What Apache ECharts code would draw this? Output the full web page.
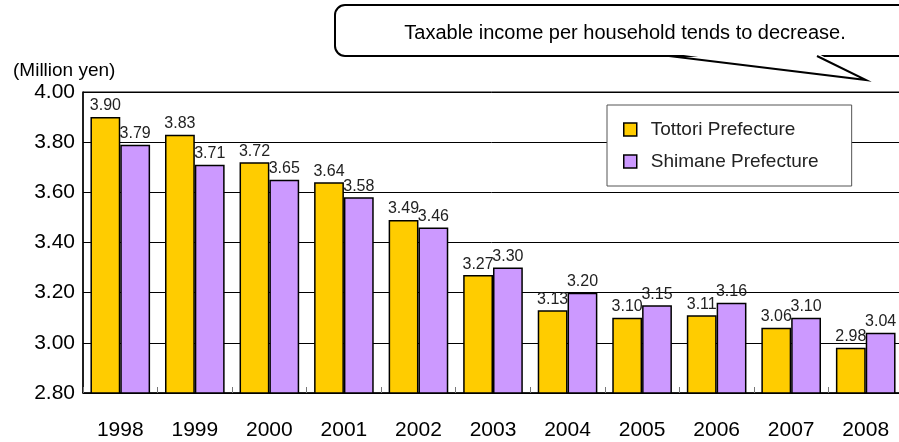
<!DOCTYPE html>
<html>
<head>
<meta charset="utf-8">
<script src="https://cdn.jsdelivr.net/npm/echarts@6/dist/echarts.min.js"></script>
<style>
html, body { margin: 0; padding: 0; background: #fff; }
#main { width: 899px; height: 442px; }
</style>
</head>
<body>
<div id="main"></div>
<script>
var years = ['1998', '1999', '2000', '2001', '2002', '2003', '2004', '2005', '2006', '2007', '2008'];
var tottori = [3.90, 3.83, 3.72, 3.64, 3.49, 3.27, 3.13, 3.10, 3.11, 3.06, 2.98];
var shimane = [3.79, 3.71, 3.65, 3.58, 3.46, 3.30, 3.20, 3.15, 3.16, 3.10, 3.04];
var yTicks = [2.80, 3.00, 3.20, 3.40, 3.60, 3.80, 4.00];
var note = 'Taxable income per household tends to decrease.';

var narrow = '"Liberation Sans Narrow", "Arial Narrow", "Liberation Sans", Arial, sans-serif';
var plain = '"Liberation Sans", Arial, sans-serif';

function make_series(name, data, color){
    return {
        type: 'bar',
        name: name,
        data: data,
        barGap: '0%',
        barCategoryGap: '20%',
        itemStyle: {
            color: color,
            borderColor: '#000',
            borderWidth: 1.5
        },
        label: {
            show: true,
            position: 'top',
            distance: 3,
            color: '#222',
            fontFamily: narrow,
            fontSize: 16,
            formatter: function (p) { return p.value.toFixed(2); }
        }
    };
}

var myChart = echarts.init(document.getElementById('main'));
var option = {
    backgroundColor: '#fff',
    animation: false,
    grid: {
        left: 83,
        right: -4,
        top: 92,
        bottom: 49,
        outerBoundsMode: 'none',
        show: true,
        borderColor: '#000',
        borderWidth: 1
    },
    legend: {
        orient: 'vertical',
        left: 607,
        top: 105,
        padding: [15, 33, 15, 16],
        itemGap: 13,
        itemWidth: 13,
        itemHeight: 13,
        backgroundColor: '#fff',
        borderColor: '#555',
        borderWidth: 1,
        icon: 'rect',
        textStyle: {
            color: '#222',
            fontFamily: narrow,
            fontSize: 19,
            padding: [0, 0, 0, 9]
        },
        itemStyle: { borderColor: '#000', borderWidth: 1.5 },
        data: ['Tottori Prefecture', 'Shimane Prefecture']
    },
    xAxis: {
        type: 'category',
        data: years,
        axisLine: { lineStyle: { color: '#000', width: 1.5 } },
        axisTick: { show: true, inside: true, length: 6, lineStyle: { color: '#777' } },
        axisLabel: {
            color: '#000',
            fontFamily: plain,
            fontSize: 21,
            margin: 27
        }
    },
    yAxis: {
        type: 'value',
        min: yTicks[0],
        max: yTicks[yTicks.length - 1],
        interval: 0.2,
        name: '(Million yen)',
        nameLocation: 'end',
        nameGap: 12,
        nameTextStyle: {
            color: '#000',
            fontFamily: plain,
            fontSize: 19,
            align: 'left',
            padding: [0, 0, 0, -70]
        },
        axisLine: { show: true, lineStyle: { color: '#000', width: 1.5 } },
        axisTick: { show: false },
        axisLabel: {
            color: '#000',
            fontFamily: plain,
            fontSize: 21,
            margin: 8,
            padding: [8, 0, 0, 0],
            formatter: function (v) { return v.toFixed(2); }
        },
        splitLine: { show: true, lineStyle: { color: '#000', width: 1 } }
    },
    graphic: [{
        type: 'rect',
        z: 100,
        shape: { x: 335, y: 5, width: 620, height: 51, r: 10 },
        style: { fill: '#fff', stroke: '#000', lineWidth: 2 }
    }, {
        type: 'polygon',
        z: 101,
        shape: { points: [[669, 53], [866, 80], [817, 53]] },
        style: { fill: '#fff' }
    }, {
        type: 'polyline',
        z: 102,
        shape: { points: [[669, 56], [866, 80], [817, 56]] },
        style: { fill: null, stroke: '#000', lineWidth: 2 }
    }, {
        type: 'text',
        z: 103,
        x: 625,
        y: 33,
        style: {
            text: note,
            fill: '#000',
            align: 'center',
            verticalAlign: 'middle',
            font: '20px "Liberation Sans", Arial, sans-serif'
        }
    }],
    series: [
        make_series('Tottori Prefecture', tottori, '#FFCC00'),
        make_series('Shimane Prefecture', shimane, '#CC99FF')
    ]
};
myChart.setOption(option);
</script>
</body>
</html>
